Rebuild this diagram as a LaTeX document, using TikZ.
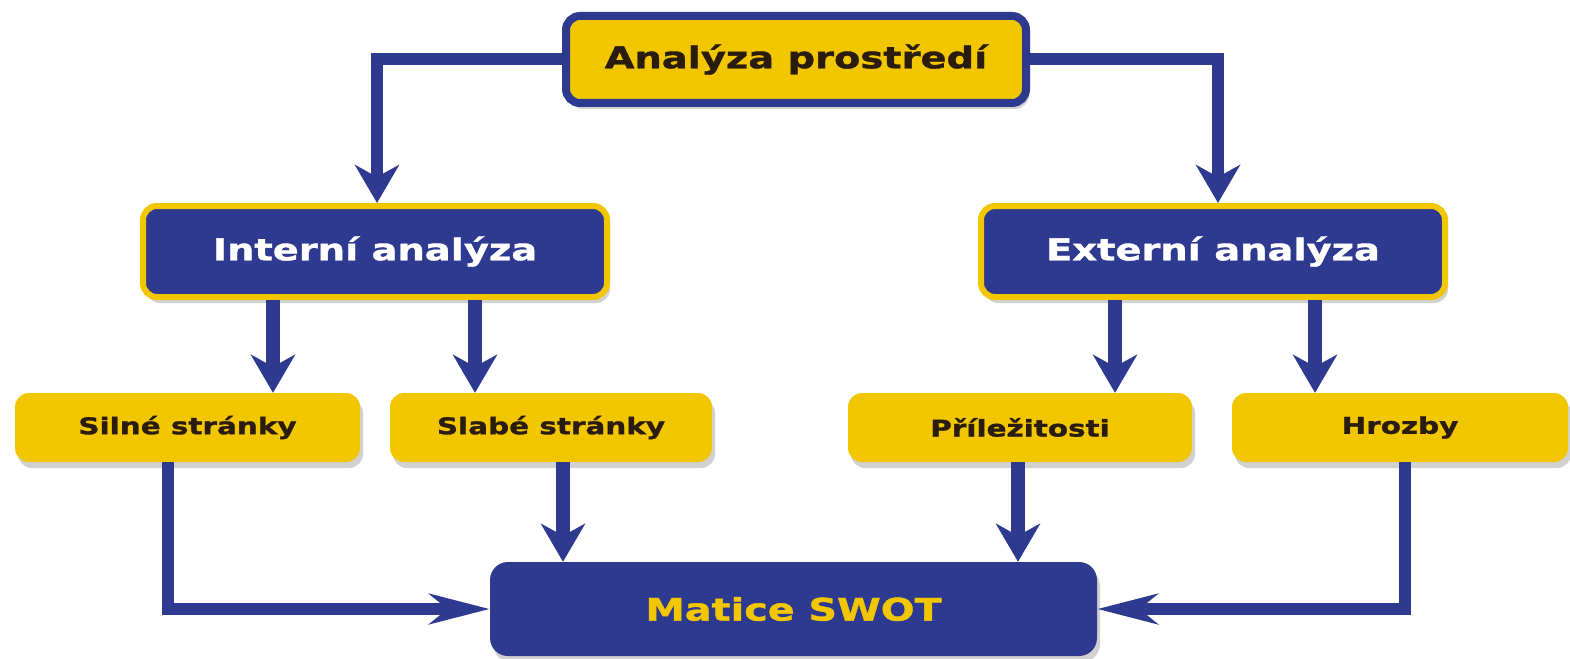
\documentclass[tikz,border=0pt]{standalone}
\usepackage{fontspec}
\newfontfamily\boxfont{DejaVu Sans}[FakeStretch=1.28, FakeBold=1.3]
\usetikzlibrary{arrows.meta, shadows}
\definecolor{swotblue}{HTML}{2E3A8F}
\definecolor{swotyellow}{HTML}{F2C700}
\definecolor{swotdark}{HTML}{2B1D0E}
\tikzset{
x=1pt, y=-1pt, % pixel grid, y goes down
box/.style={rectangle, rounded corners=14pt, inner sep=0pt, font=\boxfont\bfseries,
  drop shadow={shadow xshift=3pt, shadow yshift=-6pt, opacity=0.3, fill=black!60}}, % every box
yellowbox/.style={box, fill=swotyellow, text=swotdark}, % yellow boxes
bluebox/.style={box, fill=swotblue, text=white}, % blue boxes
wire/.style={draw=swotblue, line width=12pt}, % the connectors
vdown/.style={wire, -{Stealth[length=38pt, width=44pt, inset=12pt]}}, % arrow pointing down
hside/.style={wire, -{Stealth[length=60pt, width=30pt, inset=18pt]}}, % arrow pointing sideways
}
\begin{document}
\begin{tikzpicture}
      \useasboundingbox (0,0) rectangle (1570,658);
      % boxes
      \node[yellowbox, draw=swotblue, line width=8pt, minimum width=460pt, minimum height=87pt,
        font=\boxfont\bfseries\fontsize{30}{36}\selectfont] (env) at (796,59.5) {Analýza prostředí};
      \node[bluebox, draw=swotyellow, line width=6pt, minimum width=464pt, minimum height=91pt,
        font=\boxfont\bfseries\fontsize{30}{36}\selectfont] (int) at (375,251.5) {Interní analýza};
      \node[bluebox, draw=swotyellow, line width=6pt, minimum width=464pt, minimum height=91pt,
        font=\boxfont\bfseries\fontsize{30}{36}\selectfont] (ext) at (1213,251.5) {Externí analýza};
      \node[yellowbox, minimum width=345pt, minimum height=69pt,
        font=\boxfont\bfseries\fontsize{23}{27}\selectfont] (str) at (187.5,427.5) {Silné stránky};
      \node[yellowbox, minimum width=322pt, minimum height=69pt,
        font=\boxfont\bfseries\fontsize{23}{27}\selectfont] (wea) at (551,427.5) {Slabé stránky};
      \node[yellowbox, minimum width=344pt, minimum height=69pt,
        font=\boxfont\bfseries\fontsize{23}{27}\selectfont] (opp) at (1020,427.5) {Příležitosti};
      \node[yellowbox, minimum width=336pt, minimum height=69pt,
        font=\boxfont\bfseries\fontsize{23}{27}\selectfont] (thr) at (1400,427.5) {Hrozby};
      \node[bluebox, text=swotyellow, rounded corners=18pt, minimum width=607pt, minimum height=94pt,
        font=\boxfont\bfseries\fontsize{31}{36}\selectfont] (swot) at (793.5,609) {Matice SWOT};
      % connectors
      \draw[vdown] (env.west) -| ([xshift=2pt]int.north);
      \draw[vdown] (env.east) -| ([xshift=5pt]ext.north);
      \draw[vdown, line width=14pt] ([xshift=-102pt]int.south) -- ([xshift=-102pt]int.south |- str.north);
      \draw[vdown, line width=14pt] ([xshift=100pt]int.south) -- ([xshift=100pt]int.south |- wea.north);
      \draw[vdown, line width=14pt] ([xshift=-98pt]ext.south) -- ([xshift=-98pt]ext.south |- opp.north);
      \draw[vdown, line width=14pt] ([xshift=102pt]ext.south) -- ([xshift=102pt]ext.south |- thr.north);
      \draw[hside] ([xshift=-20pt]str.south) |- (swot.west);
      \draw[vdown, line width=14pt] ([xshift=12pt]wea.south) -- ([xshift=12pt]wea.south |- swot.north);
      \draw[vdown, line width=14pt] ([xshift=-2pt]opp.south) -- ([xshift=-2pt]opp.south |- swot.north);
      \draw[hside] ([xshift=5pt]thr.south) |- (swot.east);
    \end{tikzpicture}
\end{document}
